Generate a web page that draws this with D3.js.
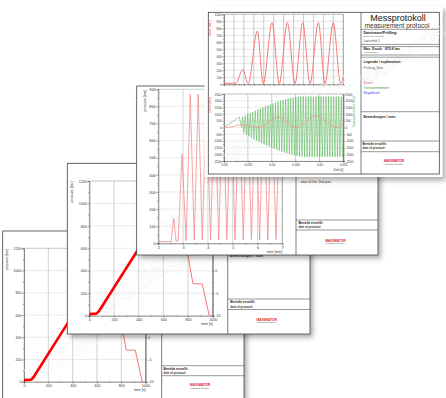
<!DOCTYPE html>
<html>
<head>
<meta charset="utf-8">
<script src="https://cdn.jsdelivr.net/npm/d3@7"></script>
<style>
  body { margin: 0; background: #fff; }
  svg { display: block; font-family: Arial, "Liberation Sans", sans-serif; }
</style>
</head>
<body>
<svg id="chart" width="446" height="398"></svg>
<script>
// ---------- data ----------
// pressure ramp test (sheets 1 and 2), time in s
const rampTime     = [0, 6, 25, 45, 60, 78, 384, 560];
const rampPressure = [0, 14, 18, 16, 20, 40, 570, 870];
// second (right-axis) channel of the ramp test
const coolTime  = [680, 840, 915, 972, 1000];
const coolValue = [22, -2.9, -2.9, -10, -10];
const rampXTicks = [0, 200, 400, 600, 800, 1000];
const rampYTicks = [0, 200, 400, 600, 800, 1000, 1200];
const rampRTicks = [-10, -5, 0, 5, 10, 15, 20];

// pulsation test (sheet 3), time in min
const cycleTime = [2, 2.52, 2.62, 2.72, 2.8, 2.96, 3.12, 3.29, 3.45, 3.61, 3.775, 3.94, 4.105, 4.27,
  4.435, 4.6, 4.765, 4.93, 5.095, 5.26, 5.425, 5.59, 5.755, 5.92, 6.085, 6.25, 6.415, 6.58, 6.745, 6.91, 7.0];
const cyclePressure = [10, 10, 145, 12, 15, 520, 15, 870, 18, 872, 20, 870, 20, 868,
  20, 870, 22, 872, 20, 870, 20, 868, 22, 870, 20, 872, 20, 870, 22, 870, 430];
const cycleXTicks = [2, 3, 4, 5, 6, 7];
const cycleYTicks = [0, 100, 200, 300, 400, 500, 600, 700, 800, 900];

// Messprotokoll (sheet 4), upper chart
const druckStep  = [0, 1.2, 1.88, 2.44, 3.35, 3.95, 4.83, 5.56, 6.37, 7.14, 7.92, 8.65, 9.49, 10.16, 10.99, 11.73, 12];
const druckValue = [15, 15, 210, 10, 760, 10, 880, 10, 880, 10, 880, 10, 880, 10, 880, 10, 110];
const upperXTicks = [0, 1, 2, 3, 4, 5, 6, 7, 8, 9, 10, 11, 12];
const upperYTicks = [0, 100, 200, 300, 400, 500, 600, 700, 800, 900, 1000];

// Messprotokoll, lower chart (Zeit [s])
const lowDruckTime  = [0.030, 0.0318, 0.0333, 0.0345, 0.0372, 0.0414, 0.0452, 0.0491, 0.0537, 0.055];
const lowDruckValue = [0, 60, 200, 170, 5, 775, 5, 875, 15, 300];
const torqueRampTime  = [0.030, 0.0332, 0.0337];
const torqueRampValue = [0, 780, 0];
const torqueStart = 0.0339, torquePeriod = 0.00053;   // read from the spacing of the spikes
const torqueHigh = [780, 880, 980, 1070, 1160, 1250, 1340, 1420, 1500, 1580, 1650, 1720, 1790, 1860,
  1930, 1990, 2050, 2110, 2160, 2210, 2250, 2280, 2300, 2310, 2320, 2300, 2310, 2320, 2300, 2310,
  2320, 2310, 2300, 2310, 2320, 2300, 2310, 2300, 2310, 2300];
const torqueLow = [-420, -540, -660, -770, -880, -980, -1080, -1170, -1260, -1350, -1430, -1510, -1590, -1660,
  -1730, -1800, -1860, -1920, -1980, -2030, -2080, -2130, -2160, -2180, -2200, -2210, -2200, -2210, -2200, -2210,
  -2200, -2210, -2200, -2190, -2200, -2210, -2200, -2190, -2200, -2200];
const lowerXTicks = [0.03, 0.035, 0.04, 0.045, 0.05, 0.055];
const lowerYTicks = [-2500, -2000, -1500, -1000, -500, 0, 500, 1000, 1500, 2000, 2500];

// ---------- drawing ----------
const svg = d3.select('#chart');
const defs = svg.append('defs');
const sh = defs.append('filter').attr('id', 'shadow')
  .attr('x', '-5%').attr('y', '-5%').attr('width', '115%').attr('height', '115%');
sh.append('feDropShadow').attr('dx', 3).attr('dy', 3.5).attr('stdDeviation', 2.6)
  .attr('flood-color', '#000').attr('flood-opacity', 0.32);

let clipCount = 0;
function clipped(g, x, y) {
  const id = 'clip' + (clipCount++);
  defs.append('clipPath').attr('id', id).append('rect')
    .attr('x', x.range()[0]).attr('y', y.range()[1])
    .attr('width', x.range()[1] - x.range()[0])
    .attr('height', y.range()[0] - y.range()[1]);
  return g.append('g').attr('clip-path', `url(#${id})`);
}

function text(g, x, y, s, size, o = {}) {
  return g.append('text').attr('x', x).attr('y', y).text(s)
    .attr('font-size', size)
    .attr('font-weight', o.bold ? 'bold' : null)
    .attr('fill', o.fill || '#222')
    .attr('text-anchor', o.anchor || 'start');
}

function hline(g, x1, x2, y, c = '#555', w = 0.6) {
  g.append('line').attr('x1', x1).attr('x2', x2).attr('y1', y).attr('y2', y)
    .attr('stroke', c).attr('stroke-width', w);
}

function logo(g, cx, y) {
  text(g, cx, y, 'MAXIMATOR', 3.4, { bold: true, fill: '#e3222b', anchor: 'middle' });
  text(g, cx, y + 2.6, 'Maximum Pressure', 2.2, { fill: '#444', anchor: 'middle' });
}

function sheet(r) {
  const g = svg.append('g');
  g.append('rect').attr('x', r.px).attr('y', r.py).attr('width', r.pw).attr('height', r.ph)
    .attr('fill', '#fff').attr('filter', 'url(#shadow)');
  g.append('rect').attr('x', r.x).attr('y', r.y).attr('width', r.w).attr('height', r.h)
    .attr('fill', 'none').attr('stroke', '#444').attr('stroke-width', 0.8);
  g.append('line').attr('x1', r.div).attr('x2', r.div).attr('y1', r.y).attr('y2', r.y + r.h)
    .attr('stroke', '#444').attr('stroke-width', 0.7);
  return g;
}

function watermark(g, cx, cy, size) {
  g.append('text').attr('transform', `translate(${cx},${cy}) rotate(-33)`)
    .attr('text-anchor', 'middle').attr('font-size', size).attr('font-weight', 'bold')
    .attr('fill', 'none').attr('stroke', '#f1f1f1').attr('stroke-width', 0.5)
    .text('MAXIMATOR');
}

function styleAxis(fs) {
  return s => {
    s.select('.domain').attr('stroke', '#444').attr('stroke-width', 0.6);
    s.selectAll('.tick line').attr('stroke', '#444').attr('stroke-width', 0.5);
    s.selectAll('text').attr('font-size', fs).attr('fill', '#333');
  };
}

function minors(ticks) {
  const out = [];
  for (let i = 0; i < ticks.length - 1; i++) out.push((ticks[i] + ticks[i + 1]) / 2);
  return out;
}

function axes(g, x, y, o) {
  const [xa, xb] = x.range(), [yb, ya] = y.range();
  g.append('g').selectAll('line').data(o.yTicks).join('line')
    .attr('x1', xa).attr('x2', xb).attr('y1', d => y(d)).attr('y2', d => y(d))
    .attr('stroke', o.hGrid).attr('stroke-width', 0.6);
  g.append('g').selectAll('line').data(o.xTicks).join('line')
    .attr('x1', d => x(d)).attr('x2', d => x(d)).attr('y1', ya).attr('y2', yb)
    .attr('stroke', o.vGrid).attr('stroke-width', 0.6);
  if (o.frame) {
    hline(g, xa, xb, ya, o.vGrid);
    g.append('line').attr('x1', xb).attr('x2', xb).attr('y1', ya).attr('y2', yb)
      .attr('stroke', '#888').attr('stroke-width', 0.6);
  }
  const fmt = o.xFmt || (d => String(d));
  g.append('g').attr('transform', `translate(0,${yb})`)
    .call(d3.axisBottom(x).tickValues(o.xTicks).tickSize(o.ts).tickPadding(0.8).tickFormat(fmt))
    .call(styleAxis(o.fs));
  g.append('g').attr('transform', `translate(0,${yb})`)
    .call(d3.axisBottom(x).tickValues(minors(o.xTicks)).tickSize(o.ts * 0.6).tickFormat(''))
    .call(styleAxis(o.fs)).call(s => s.select('.domain').remove());
  g.append('g').attr('transform', `translate(${xa},0)`)
    .call(d3.axisLeft(y).tickValues(o.yTicks).tickSize(o.ts).tickPadding(0.8).tickFormat(d => String(d)))
    .call(styleAxis(o.fs));
  g.append('g').attr('transform', `translate(${xa},0)`)
    .call(d3.axisLeft(y).tickValues(minors(o.yTicks)).tickSize(o.ts * 0.6).tickFormat(''))
    .call(styleAxis(o.fs)).call(s => s.select('.domain').remove());
  if (o.yR) {
    g.append('g').attr('transform', `translate(${xb},0)`)
      .call(d3.axisRight(o.yR).tickValues(o.rTicks).tickSize(o.ts).tickPadding(0.8).tickFormat(d => String(d)))
      .call(styleAxis(o.fs));
    g.append('g').attr('transform', `translate(${xb},0)`)
      .call(d3.axisRight(o.yR).tickValues(minors(o.rTicks)).tickSize(o.ts * 0.6).tickFormat(''))
      .call(styleAxis(o.fs)).call(s => s.select('.domain').remove());
  }
}

function yLabel(g, x, y, s, size, fill, anchor) {
  g.append('text').attr('transform', `translate(${x},${y}) rotate(-90)`)
    .attr('text-anchor', anchor).attr('font-size', size).attr('fill', fill).text(s);
}

function path(g, xs, ys, x, y, color, width, curve) {
  const pts = xs.map((t, i) => [t, ys[i]]);
  g.append('path').datum(pts)
    .attr('d', d3.line().x(d => x(d[0])).y(d => y(d[1])).curve(curve || d3.curveLinear))
    .attr('fill', 'none').attr('stroke', color).attr('stroke-width', width)
    .attr('stroke-linejoin', 'round');
}

// ----- ramp sheet drawing (used by sheets 1 and 2) -----
function rampChart(g, xr, yr, labelX, fs) {
  const x = d3.scaleLinear([0, 1000], xr);
  const y = d3.scaleLinear([0, 1200], yr);
  const yR = d3.scaleLinear([-10, 20], yr);
  axes(g, x, y, { xTicks: rampXTicks, yTicks: rampYTicks, yR, rTicks: rampRTicks,
    hGrid: '#dcdcdc', vGrid: '#b4b4b4', ts: 1.8, fs, frame: true });
  watermark(g, (xr[0] + xr[1]) / 2 + 8, (yr[0] + yr[1]) / 2 + 30, 24);
  const c = clipped(g, x, y);
  path(c, coolTime, coolValue, x, yR, '#f06a6a', 0.9);
  path(c, rampTime, rampPressure, x, y, '#ff0000', 2.6);
  yLabel(g, labelX, yr[1] + 0.5, 'pressure [bar]', fs * 0.95, '#333', 'end');
  text(g, xr[1], yr[0] + 9.5, 'time [s]', fs, { anchor: 'end', fill: '#333' });
}

// ===== sheet 1 (back) =====
const s1 = sheet({ px: 2.7, py: 231, pw: 241.3, ph: 185, x: 2.7, y: 231, w: 241.3, h: 185, div: 161.7 });
rampChart(s1, [24, 145.6], [381.7, 248.3], 7.5, 3.6);
hline(s1, 161.7, 244, 365.7);
text(s1, 163.5, 369.7, 'Bericht erstellt:', 3.4, { bold: true });
text(s1, 163.5, 374.2, 'date of protocol:', 2.9, { bold: true, fill: '#333' });
hline(s1, 161.7, 244, 375.7);
logo(s1, 200, 386);

// ===== sheet 2 =====
const s2 = sheet({ px: 67.3, py: 163.3, pw: 242.7, ph: 170.7, x: 67.3, y: 163.3, w: 242.7, h: 170.7, div: 227.7 });
rampChart(s2, [89.3, 212.7], [315.7, 181], 73, 3.6);
text(s2, 230, 257.2, 'Bemerkungen / note:', 3.4, { bold: true });
text(s2, 230, 262, '-', 3.6, { fill: '#333' });
hline(s2, 227.7, 310, 299);
text(s2, 230.3, 303.3, 'Bericht erstellt:', 3.4, { bold: true });
text(s2, 230.3, 307.6, 'date of protocol:', 2.9, { bold: true, fill: '#333' });
hline(s2, 227.7, 310, 309.5);
logo(s2, 266.7, 320.5);

// ===== sheet 3 =====
const s3 = sheet({ px: 136.7, py: 86, pw: 241.3, ph: 169, x: 136.7, y: 86, w: 241.3, h: 169, div: 296 });
{
  const x = d3.scaleLinear([2, 7], [158.3, 282.3]);
  const y = d3.scaleLinear([0, 900], [243.3, 89.3]);
  axes(s3, x, y, { xTicks: cycleXTicks, yTicks: cycleYTicks, hGrid: '#dedede', vGrid: '#bdbdbd',
    ts: 1.8, fs: 3.8, frame: true });
  watermark(s3, 225, 200, 22);
  const c = clipped(s3, x, y);
  path(c, cycleTime, cyclePressure, x, y, '#f08585', 0.75);
  yLabel(s3, 145.5, 90, 'pressure [bar]', 3.5, '#333', 'end');
  text(s3, 282.3, 253, 'time [min]', 3.6, { anchor: 'end', fill: '#333' });
}
text(s3, 298.5, 183.3, '- start of the 2nd part', 3.5, { fill: '#333' });
hline(s3, 296, 378, 220);
text(s3, 298.5, 223.8, 'Bericht erstellt:', 3.4, { bold: true });
text(s3, 298.5, 228.3, 'date of protocol:', 2.9, { bold: true, fill: '#333' });
hline(s3, 296, 378, 230);
logo(s3, 335.5, 241.5);

// ===== sheet 4 (front): Messprotokoll =====
const s4 = sheet({ px: 204.5, py: 6, pw: 238, ph: 171, x: 208.3, y: 12.3, w: 231, h: 161.7, div: 361 });
{
  // upper chart
  const x = d3.scaleLinear([0, 12], [224, 343.3]);
  const y = d3.scaleLinear([0, 1000], [84.3, 14.3]);
  axes(s4, x, y, { xTicks: upperXTicks, yTicks: upperYTicks, hGrid: '#d2d2d2', vGrid: '#a8a8a8',
    ts: 1.5, fs: 3.1, xFmt: () => '', frame: true });
  const c = clipped(s4, x, y);
  path(c, druckStep, druckValue, x, y, '#f26b6b', 0.9, d3.curveMonotoneX);
  yLabel(s4, 211, 28.5, 'Druck [bar]', 3.2, '#e84040', 'middle');
}
{
  // lower chart
  const x = d3.scaleLinear([0.03, 0.055], [224, 343.3]);
  const y = d3.scaleLinear([-2500, 2500], [161, 94]);
  axes(s4, x, y, { xTicks: lowerXTicks, yTicks: lowerYTicks, yR: y, rTicks: lowerYTicks,
    hGrid: '#e0e0e0', vGrid: '#a8a8a8', ts: 1.5, fs: 3.1, xFmt: d => String(+d.toFixed(4)), frame: true });
  watermark(s4, 290, 125, 24);
  const c = clipped(s4, x, y);
  // torque: spikes built from the read peak values at the read spike spacing
  const tT = [...torqueRampTime], tV = [...torqueRampValue];
  torqueHigh.forEach((v, i) => {
    tT.push(torqueStart + i * torquePeriod, torqueStart + (i + 0.5) * torquePeriod);
    tV.push(v, torqueLow[i]);
  });
  path(c, tT, tV, x, y, '#5cb85c', 0.6);
  path(c, lowDruckTime, lowDruckValue, x, y, '#ea9a84', 0.8, d3.curveMonotoneX);
  yLabel(s4, 211, 105, 'Druck [bar]', 3.2, '#e84040', 'middle');
  yLabel(s4, 354.5, 112, 'Torsionsmoment [Nm]', 3.2, '#3aa53a', 'middle');
  text(s4, 343.3, 171, 'Zeit [s]', 3.3, { anchor: 'end', fill: '#333' });
}
// right panel of sheet 4
watermark(s4, 405, 60, 16);
text(s4, 398, 21, 'Messprotokoll', 9, { anchor: 'middle', fill: '#111' });
text(s4, 397, 27.8, 'measurement protocol', 6.5, { anchor: 'middle', fill: '#333' });
hline(s4, 361, 439.3, 29.3);
text(s4, 363.5, 34.1, 'Dateiname/Prüfling:', 3.6, { bold: true });
text(s4, 363.5, 37.2, 'Dateiname/Prüfling', 2.4, { fill: '#555' });
text(s4, 363.5, 42.3, 'Lastschritt 1', 3, { fill: '#444' });
hline(s4, 361, 439.3, 44.4);
hline(s4, 361, 439.3, 46.6);
text(s4, 363.5, 50.3, 'Max. Druck:', 3.4, { bold: true });
text(s4, 385, 50.3, '875.8 bar', 3.4, { bold: true });
text(s4, 363.5, 53.2, 'Maximaldruck', 2.4, { fill: '#555' });
hline(s4, 361, 439.3, 55);
hline(s4, 361, 439.3, 57.2);
text(s4, 363.5, 62.5, 'Legende / explanation:', 3.5, { bold: true });
text(s4, 363.5, 68.6, 'Prüfung_Start', 3.2, { fill: '#555' });
text(s4, 363.5, 84.3, 'Druck', 3.5, { fill: '#f05555' });
text(s4, 363.5, 89.3, 'Torsionsmoment', 3.5, { fill: '#3aa53a' });
text(s4, 363.5, 94.3, 'Regelkraft', 3.5, { fill: '#3c3cf0' });
hline(s4, 361, 439.3, 111.7);
text(s4, 363.5, 117.8, 'Bemerkungen / note:', 3.3, { bold: true });
hline(s4, 361, 439.3, 141);
text(s4, 362.5, 145.4, 'Bericht erstellt:', 3.3, { bold: true });
text(s4, 362.5, 149.2, 'date of protocol:', 2.9, { bold: true, fill: '#333' });
hline(s4, 361, 439.3, 151.7);
logo(s4, 394, 162.2);
</script>
</body>
</html>
